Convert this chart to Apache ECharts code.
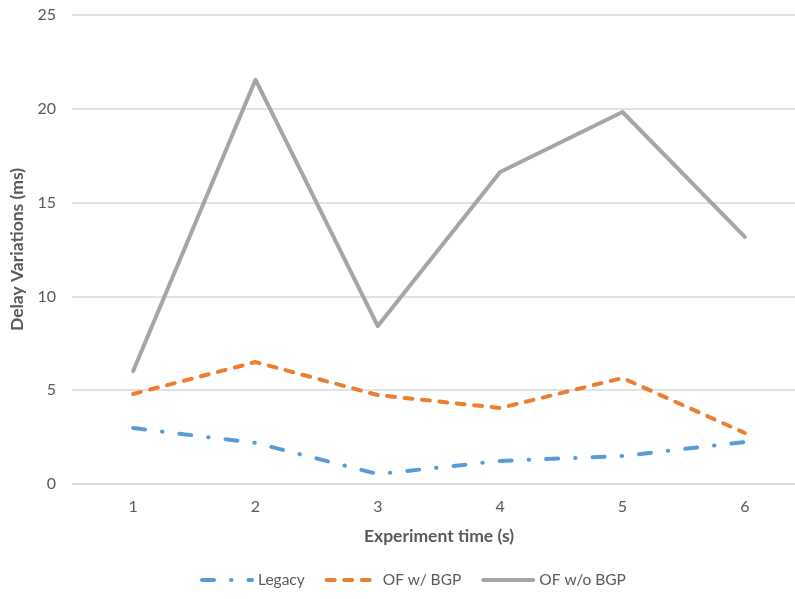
<!DOCTYPE html>
<html>
<head>
<meta charset="utf-8">
<script src="https://cdn.jsdelivr.net/npm/echarts@6/dist/echarts.min.js"></script>
<style>
  html, body { margin: 0; padding: 0; background: #fff; overflow: hidden; }
  #chart { width: 812px; height: 599px; }
</style>
</head>
<body>
<div id="chart"></div>
<script>
// Experiment time categories (s)
const categories = ['1', '2', '3', '4', '5', '6'];
// Delay variations (ms) per scheme
const legacy = [2.98, 2.19, 0.53, 1.23, 1.49, 2.24];
const ofWithBgp = [4.80, 6.50, 4.74, 4.05, 5.65, 2.72];
const ofWithoutBgp = [6.02, 21.55, 8.42, 16.63, 19.83, 13.17];
const seriesNames = ['Legacy', 'OF w/ BGP', 'OF w/o BGP'];

const textColor = '#595959';
const font = 'Lato, "Open Sans", sans-serif';

const chart = echarts.init(document.getElementById('chart'));

chart.setOption({
  animation: false,
  textStyle: { fontFamily: font },
  // plot area runs a little past the right edge of the visible page
  grid: { left: 67, top: 15, right: 6, bottom: 115 },
  legend: {
    data: seriesNames,
    bottom: 6,
    left: 195,
    itemWidth: 50,
    itemHeight: 12,
    itemGap: 20,
    itemStyle: { opacity: 0 },
    lineStyle: { width: 4, cap: 'round' },
    textStyle: { color: textColor, fontSize: 15.5, fontFamily: font, padding: [0, 0, 0, 1] }
  },
  xAxis: {
    type: 'category',
    data: categories,
    boundaryGap: true,
    name: 'Experiment time (s)',
    nameLocation: 'middle',
    nameGap: 43,
    nameTextStyle: { color: textColor, fontSize: 17.5, fontWeight: 'bold', fontFamily: font },
    axisLine: { show: true, lineStyle: { color: '#D9D9D9', width: 1 } },
    axisTick: { show: false },
    axisLabel: { color: textColor, fontSize: 16, margin: 15 }
  },
  yAxis: {
    type: 'value',
    min: 0,
    max: 25,
    interval: 5,
    name: 'Delay Variations (ms)',
    nameLocation: 'middle',
    nameGap: 46,
    nameTextStyle: { color: textColor, fontSize: 17.5, fontWeight: 'bold', fontFamily: font },
    axisLine: { show: false },
    axisTick: { show: false },
    axisLabel: { color: textColor, fontSize: 16, margin: 16 },
    splitLine: { lineStyle: { color: '#D9D9D9', width: 1.5 } }
  },
  series: [
    {
      name: seriesNames[0],
      type: 'line',
      data: legacy,
      symbol: 'none',
      color: '#5B9BD5',
      lineStyle: { color: '#5B9BD5', width: 4, type: [12, 17, 0.5, 17], cap: 'round', join: 'round' }
    },
    {
      name: seriesNames[1],
      type: 'line',
      data: ofWithBgp,
      symbol: 'none',
      color: '#ED7D31',
      lineStyle: { color: '#ED7D31', width: 4, type: [8, 9.5], cap: 'round', join: 'round' }
    },
    {
      name: seriesNames[2],
      type: 'line',
      data: ofWithoutBgp,
      symbol: 'none',
      color: '#A5A5A5',
      lineStyle: { color: '#A5A5A5', width: 4, cap: 'round', join: 'round' }
    }
  ]
});
</script>
</body>
</html>
